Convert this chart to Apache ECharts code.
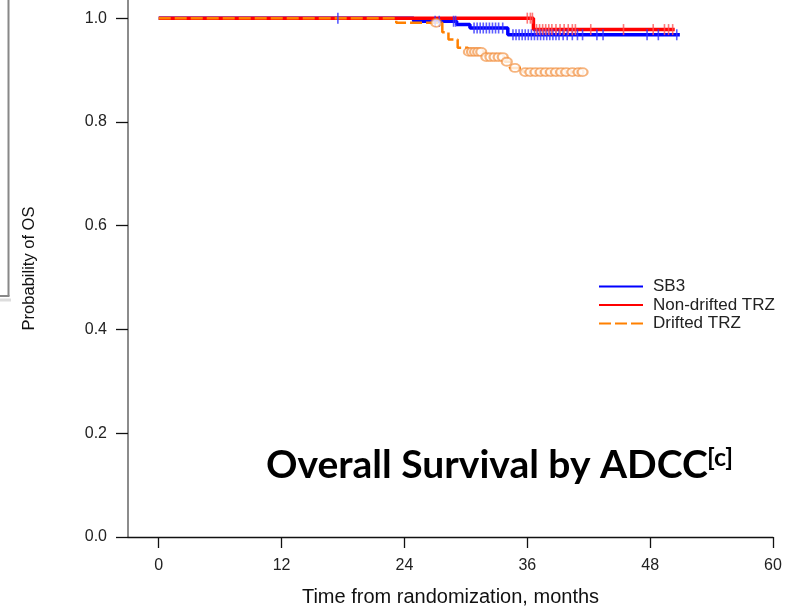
<!DOCTYPE html>
<html>
<head>
    <meta charset="utf-8" />
    <script src="https://cdn.jsdelivr.net/npm/echarts@6/dist/echarts.min.js"></script>
    <style>
        html, body { margin: 0; padding: 0; background: #fff; }
    </style>
</head>
<body>
    <div id="main" style="width: 788px; height: 612px;"></div>
    <script type="text/javascript">
        // 坐标轴刻度
        var xTicks = [0, 12, 24, 36, 48, 60];
        var yTicks = [0, 0.2, 0.4, 0.6, 0.8, 1.0];

        // 生存曲线阶梯点 (月, 概率)
        var sb3Times = [0, 24.9, 29.1, 30.4, 34.1, 50.9];
        var sb3Surv = [1, 0.994, 0.988, 0.981, 0.968, 0.968];
        var nonDriftTimes = [0, 36.6, 50.4];
        var nonDriftSurv = [1, 0.978, 0.978];
        var driftTimes = [0, 23.2, 27.7, 28.3, 29.2, 30.2, 31.8, 33.8, 34.3, 35.6, 41.4];
        var driftSurv = [1, 0.991, 0.973, 0.959, 0.943, 0.935, 0.925, 0.916, 0.904, 0.896, 0.896];

        // 删失时间
        var sb3Censor = [17.5, 27.0, 27.4, 28.8, 29.0, 30.8, 31.1, 31.4, 31.7, 32.0, 32.3, 32.6, 32.9, 33.2, 33.6,
            34.6, 34.9, 35.2, 35.5, 35.8, 36.1, 36.4, 36.7, 37.0, 37.3, 37.6, 37.9, 38.2, 38.5, 38.8, 39.1, 39.5, 39.9,
            40.4, 40.9, 41.4, 42.8, 43.4, 47.7, 48.8, 50.6];
        var nonDriftCensor = [36.0, 36.3, 36.5, 36.9, 37.2, 37.5, 37.8, 38.1, 38.4, 38.8, 39.2, 39.6, 40.0, 40.4, 40.7,
            42.2, 45.4, 48.3, 49.4, 49.8, 50.2];
        var driftCensor = [27.1, 30.3, 30.6, 30.9, 31.2, 31.5, 32.0, 32.4, 32.8, 33.2, 33.6, 34.0, 34.8, 35.8, 36.3,
            36.8, 37.3, 37.8, 38.3, 38.8, 39.3, 39.8, 40.4, 41.0, 41.4];

        var FONT = 'Liberation Sans, Arial, sans-serif';

        function zip(ts, vs) {
            return ts.map(function (t, i) { return [t, vs[i]]; });
        }
        // 删失点放在曲线所在的水平上
        function censorPoints(cs, ts, vs) {
            return cs.map(function (c) {
                var s = vs[0];
                for (var i = 0; i < ts.length; i++) {
                    if (ts[i] <= c) s = vs[i];
                }
                return [c, s];
            });
        }

        var myChart = echarts.init(document.getElementById('main'));

        var option = {
            animation: false,
            grid: { left: 128, right: 15, top: 0, bottom: 72 },
            legend: {
                orient: 'vertical',
                left: 593,
                top: 273,
                itemWidth: 44,
                itemHeight: 12,
                itemGap: 1.5,
                itemStyle: { opacity: 0 },
                data: ['SB3', 'Non-drifted TRZ', 'Drifted TRZ'],
                textStyle: { fontFamily: FONT, fontSize: 17, color: '#222', padding: [0, 0, 0, 5] }
            },
            xAxis: {
                type: 'value',
                min: -3,
                max: 60,
                name: 'Time from randomization, months',
                nameLocation: 'middle',
                nameGap: 50,
                nameTextStyle: { fontFamily: FONT, fontSize: 20, color: '#111' },
                splitLine: { show: false },
                axisLine: { show: true, lineStyle: { color: '#111', width: 1.3 } },
                axisTick: { show: true, length: 11, customValues: xTicks, lineStyle: { color: '#111', width: 1.3 } },
                axisLabel: { customValues: xTicks, margin: 20.5, fontFamily: FONT, fontSize: 16, color: '#222' }
            },
            yAxis: {
                type: 'value',
                min: 0,
                max: 1.035,
                name: 'Probability of OS',
                nameLocation: 'middle',
                nameGap: 90,
                nameTextStyle: { fontFamily: FONT, fontSize: 16.5, color: '#111' },
                splitLine: { show: false },
                axisLine: { show: true, onZero: false, lineStyle: { color: '#666', width: 1.5 } },
                axisTick: { show: true, length: 12, customValues: yTicks, lineStyle: { color: '#111', width: 1.3 } },
                axisLabel: {
                    customValues: yTicks, margin: 21, fontFamily: FONT, fontSize: 16, color: '#222',
                    formatter: function (v) { return v.toFixed(1); }
                }
            },
            series: [
                {
                    name: 'SB3', type: 'line', step: 'end', symbol: 'none', z: 2,
                    color: '#0000ff',
                    lineStyle: { color: '#0000ff', width: 3.5 },
                    data: zip(sb3Times, sb3Surv)
                },
                {
                    name: 'Non-drifted TRZ', type: 'line', step: 'end', symbol: 'none', z: 3,
                    color: '#ff0000',
                    lineStyle: { color: '#ff0000', width: 3.5 },
                    data: zip(nonDriftTimes, nonDriftSurv)
                },
                {
                    name: 'Drifted TRZ', type: 'line', step: 'end', symbol: 'none', z: 4,
                    color: '#ff8000',
                    lineStyle: { color: '#ff8000', width: 2.5, type: [12, 4] },
                    data: zip(driftTimes, driftSurv)
                },
                {
                    type: 'scatter', symbol: 'rect', symbolSize: [1.6, 11], z: 5,
                    itemStyle: { color: '#3333ff' },
                    data: censorPoints(sb3Censor, sb3Times, sb3Surv)
                },
                {
                    type: 'scatter', symbol: 'rect', symbolSize: [1.6, 11], z: 5,
                    itemStyle: { color: '#ff5555' },
                    data: censorPoints(nonDriftCensor, nonDriftTimes, nonDriftSurv)
                },
                {
                    type: 'scatter', symbol: 'emptyCircle', symbolSize: [10, 8], z: 6,
                    itemStyle: { color: 'rgba(240,130,40,0.75)', borderColor: 'rgba(240,130,40,0.75)', borderWidth: 1.2 },
                    data: censorPoints(driftCensor, driftTimes, driftSurv)
                }
            ],
            graphic: [
                // 左侧幻灯片边框残留
                { type: 'line', shape: { x1: 8.5, y1: 0, x2: 8.5, y2: 296 }, style: { stroke: '#888', lineWidth: 2 } },
                { type: 'line', shape: { x1: 0, y1: 296, x2: 9.5, y2: 296 }, style: { stroke: '#888', lineWidth: 2 } },
                { type: 'line', shape: { x1: 0, y1: 300, x2: 11, y2: 300 }, style: { stroke: '#ddd', lineWidth: 3 } },
                {
                    type: 'text', left: 266, top: 446,
                    style: { text: 'Overall Survival by ADCC', fontFamily: 'Lato, sans-serif', fontWeight: 'bold', fontSize: 39, fill: '#000' }
                },
                {
                    type: 'text', left: 707, top: 445,
                    style: { text: '[c]', fontFamily: 'Lato, sans-serif', fontWeight: 'bold', fontSize: 25, fill: '#000' }
                }
            ]
        };

        myChart.setOption(option);
    </script>
</body>
</html>
